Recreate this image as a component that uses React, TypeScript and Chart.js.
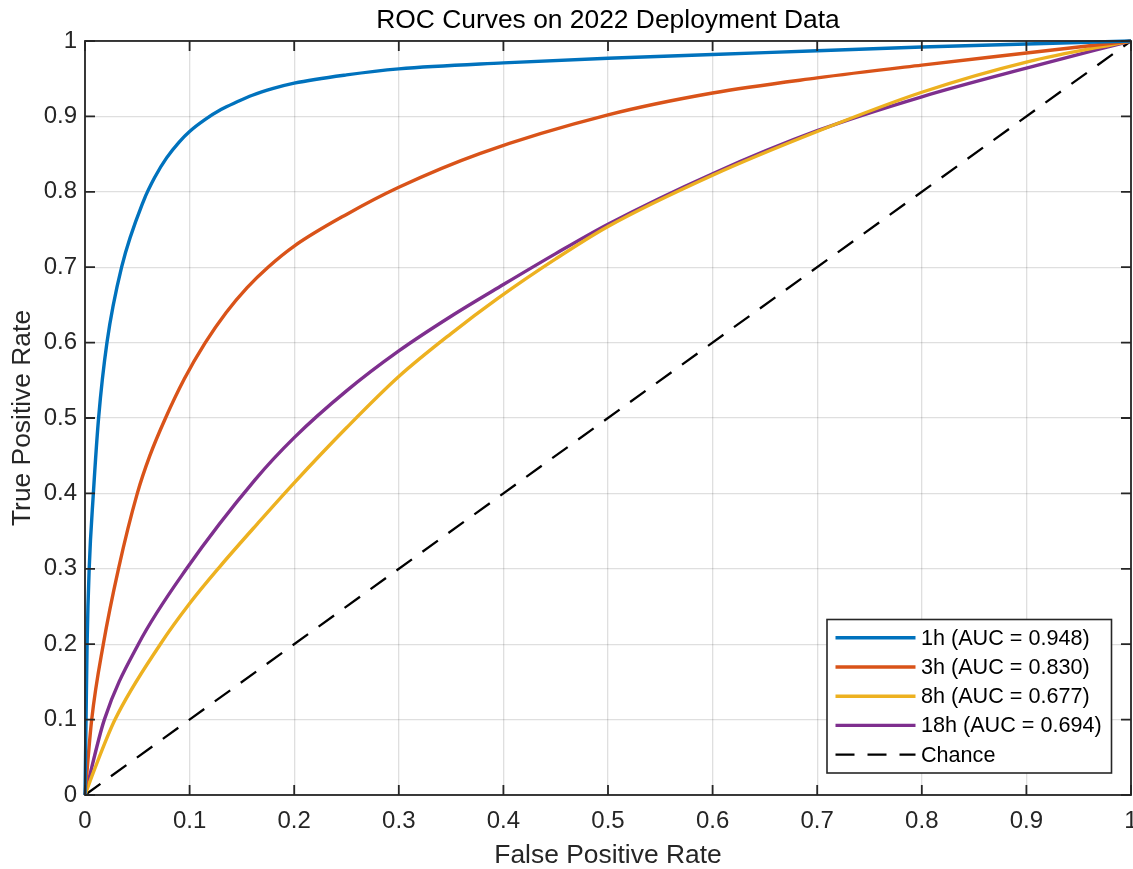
import React, { useEffect, useRef } from 'react';
import { Chart, registerables } from 'chart.js';

Chart.register(...registerables);

// ---------- data ----------
const chartTitle = 'ROC Curves on 2022 Deployment Data';
const xAxisTitle = 'False Positive Rate';
const yAxisTitle = 'True Positive Rate';

const seriesLabels = ['1h (AUC = 0.948)', '3h (AUC = 0.830)', '8h (AUC = 0.677)', '18h (AUC = 0.694)'];
const chanceLabel = 'Chance';

const fpr1h = [0, 0.001, 0.002, 0.004, 0.008, 0.013, 0.021, 0.035, 0.056, 0.067, 0.078, 0.09, 0.1, 0.115, 0.13, 0.145, 0.16, 0.18, 0.2, 0.25, 0.3, 0.4, 0.5, 0.6, 0.7, 0.8, 0.9, 1];
const tpr1h = [0, 0.1, 0.2, 0.3, 0.4, 0.5, 0.6, 0.7, 0.788, 0.82, 0.845, 0.866, 0.88, 0.896, 0.909, 0.919, 0.928, 0.937, 0.944, 0.955, 0.963, 0.971, 0.977, 0.982, 0.987, 0.992, 0.996, 1];

const fpr3h = [0, 0.0064, 0.0175, 0.032, 0.05, 0.062, 0.077, 0.095, 0.115, 0.135, 0.155, 0.175, 0.2, 0.25, 0.3, 0.378, 0.5, 0.6, 0.7, 0.8, 0.9, 1];
const tpr3h = [0, 0.1, 0.2, 0.3, 0.4, 0.45, 0.5, 0.552, 0.6, 0.64, 0.673, 0.7, 0.728, 0.77, 0.806, 0.851, 0.902, 0.931, 0.951, 0.968, 0.984, 1];

const fpr8h = [0, 0.008, 0.0287, 0.072, 0.1, 0.129, 0.165, 0.2, 0.25, 0.3, 0.35, 0.394, 0.45, 0.5, 0.6, 0.7, 0.8, 0.9, 1];
const tpr8h = [0, 0.03, 0.1, 0.2, 0.254, 0.303, 0.36, 0.414, 0.487, 0.555, 0.612, 0.658, 0.711, 0.754, 0.822, 0.88, 0.932, 0.972, 1];

const fpr18h = [0, 0.0185, 0.051, 0.097, 0.1625, 0.2, 0.25, 0.3, 0.35, 0.4, 0.45, 0.5, 0.6, 0.7, 0.8, 0.9, 1];
const tpr18h = [0, 0.1, 0.2, 0.3, 0.418, 0.474, 0.536, 0.589, 0.635, 0.677, 0.718, 0.757, 0.824, 0.881, 0.926, 0.964, 1];

const chanceFpr = [0, 1];
const chanceTpr = [0, 1];

const tickLabels = ['0', '0.1', '0.2', '0.3', '0.4', '0.5', '0.6', '0.7', '0.8', '0.9', '1'];

// ---------- styles ----------
const FONT = '"Liberation Sans", Arial, Helvetica, sans-serif';
const seriesColors = ['#0072BD', '#D95319', '#EDB120', '#7E2F8E'];
const AXIS_COLOR = '#262626';
const GRID_COLOR = 'rgba(38,38,38,0.15)';

const toPoints = (xs: number[], ys: number[]) => xs.map((x, i) => ({ x, y: ys[i] }));

const matlabAxesPlugin = {
  id: 'matlabAxes',
  afterDraw(chart: any) {
    const { ctx, chartArea: a, scales } = chart;
    ctx.save();
    // inward ticks on all four sides
    ctx.strokeStyle = AXIS_COLOR;
    ctx.lineWidth = 1.8;
    const tl = 10;
    ctx.beginPath();
    scales.x.ticks.forEach((t: any) => {
      const px = scales.x.getPixelForValue(t.value);
      ctx.moveTo(px, a.bottom);
      ctx.lineTo(px, a.bottom - tl);
      ctx.moveTo(px, a.top);
      ctx.lineTo(px, a.top + tl);
    });
    scales.y.ticks.forEach((t: any) => {
      const py = scales.y.getPixelForValue(t.value);
      ctx.moveTo(a.left, py);
      ctx.lineTo(a.left + tl, py);
      ctx.moveTo(a.right, py);
      ctx.lineTo(a.right - tl, py);
    });
    ctx.stroke();
    ctx.strokeRect(a.left, a.top, a.right - a.left, a.bottom - a.top);

    // legend box
    const boxW = 284.5;
    const boxH = 153.5;
    const boxRight = a.right - 19.5;
    const boxBottom = a.bottom - 22;
    const bx = boxRight - boxW;
    const by = boxBottom - boxH;
    ctx.fillStyle = '#ffffff';
    ctx.fillRect(bx, by, boxW, boxH);
    ctx.lineWidth = 1.6;
    ctx.strokeStyle = AXIS_COLOR;
    ctx.strokeRect(bx, by, boxW, boxH);

    ctx.font = `21.6px ${FONT}`;
    ctx.textBaseline = 'middle';
    ctx.textAlign = 'left';
    chart.data.datasets.forEach((ds: any, i: number) => {
      const cy = by + 18.3 + i * 29.2;
      ctx.save();
      ctx.strokeStyle = ds.borderColor;
      ctx.lineWidth = ds.borderWidth;
      ctx.setLineDash(ds.borderDash || []);
      ctx.beginPath();
      ctx.moveTo(bx + 8.5, cy);
      ctx.lineTo(bx + 88.5, cy);
      ctx.stroke();
      ctx.restore();
      ctx.fillStyle = '#000000';
      ctx.fillText(ds.label, bx + 94, cy + 1);
    });
    ctx.restore();
  },
};

export default function App() {
  const canvasRef = useRef<HTMLCanvasElement | null>(null);

  useEffect(() => {
    if (!canvasRef.current) return;
    Chart.defaults.font.family = FONT;

    const lineSeries = [
      [fpr1h, tpr1h],
      [fpr3h, tpr3h],
      [fpr8h, tpr8h],
      [fpr18h, tpr18h],
    ].map(([xs, ys], i) => ({
      label: seriesLabels[i],
      data: toPoints(xs, ys),
      borderColor: seriesColors[i],
      backgroundColor: seriesColors[i],
      borderWidth: 3.4,
      showLine: true,
      pointRadius: 0,
      cubicInterpolationMode: 'monotone' as const,
      clip: 4 as any,
      order: i,
    }));

    const chance = {
      label: chanceLabel,
      data: toPoints(chanceFpr, chanceTpr),
      borderColor: '#000000',
      backgroundColor: '#000000',
      borderWidth: 2.3,
      borderDash: [19, 13],
      showLine: true,
      pointRadius: 0,
      clip: false as any,
      order: 10,
    };

    const chart = new Chart(canvasRef.current, {
      type: 'scatter',
      data: { datasets: [...lineSeries, chance] as any },
      options: {
        animation: false,
        responsive: false,
        devicePixelRatio: 1,
        layout: { padding: { left: 0, right: 2, top: 0, bottom: 0 } },
        plugins: {
          legend: { display: false },
          tooltip: { enabled: false },
          title: {
            display: true,
            text: chartTitle,
            fullSize: false,
            color: '#000000',
            font: { size: 26.4, weight: 'normal', lineHeight: 1.2, family: FONT },
            padding: { top: 4.7, bottom: 4.6 },
          },
        },
        scales: {
          x: {
            type: 'linear',
            min: 0,
            max: 1,
            border: { display: false },
            grid: { color: GRID_COLOR, lineWidth: 1.3, drawTicks: false },
            ticks: {
              stepSize: 0.1,
              color: AXIS_COLOR,
              font: { size: 24, family: FONT },
              padding: 12,
              maxRotation: 0,
              autoSkip: false,
              callback: (_v: any, i: number) => tickLabels[i],
            },
            title: {
              display: true,
              text: xAxisTitle,
              color: AXIS_COLOR,
              font: { size: 26.4, lineHeight: 1, family: FONT },
              padding: { top: 0, bottom: 0 },
            },
            afterFit: (s: any) => {
              s.height = 74;
              s.paddingLeft = 0;
              s.paddingRight = 0;
            },
          },
          y: {
            type: 'linear',
            min: 0,
            max: 1,
            border: { display: false },
            grid: { color: GRID_COLOR, lineWidth: 1.3, drawTicks: false },
            ticks: {
              stepSize: 0.1,
              color: AXIS_COLOR,
              font: { size: 24, family: FONT },
              padding: 8,
              autoSkip: false,
              callback: (_v: any, i: number) => tickLabels[i],
            },
            title: {
              display: true,
              text: yAxisTitle,
              color: AXIS_COLOR,
              font: { size: 26.4, lineHeight: 1, family: FONT },
              padding: { top: 10, bottom: 0 },
            },
            afterFit: (s: any) => {
              s.width = 85;
              s.paddingTop = 0;
              s.paddingBottom = 0;
            },
          },
        },
      } as any,
      plugins: [matlabAxesPlugin],
    });

    return () => chart.destroy();
  }, []);

  return (
    <div
      style={{
        position: 'fixed',
        left: 0,
        top: 0,
        width: 1133,
        height: 869,
        overflow: 'hidden',
        background: '#ffffff',
      }}
    >
      <canvas ref={canvasRef} width={1133} height={869} style={{ display: 'block' }} />
    </div>
  );
}
